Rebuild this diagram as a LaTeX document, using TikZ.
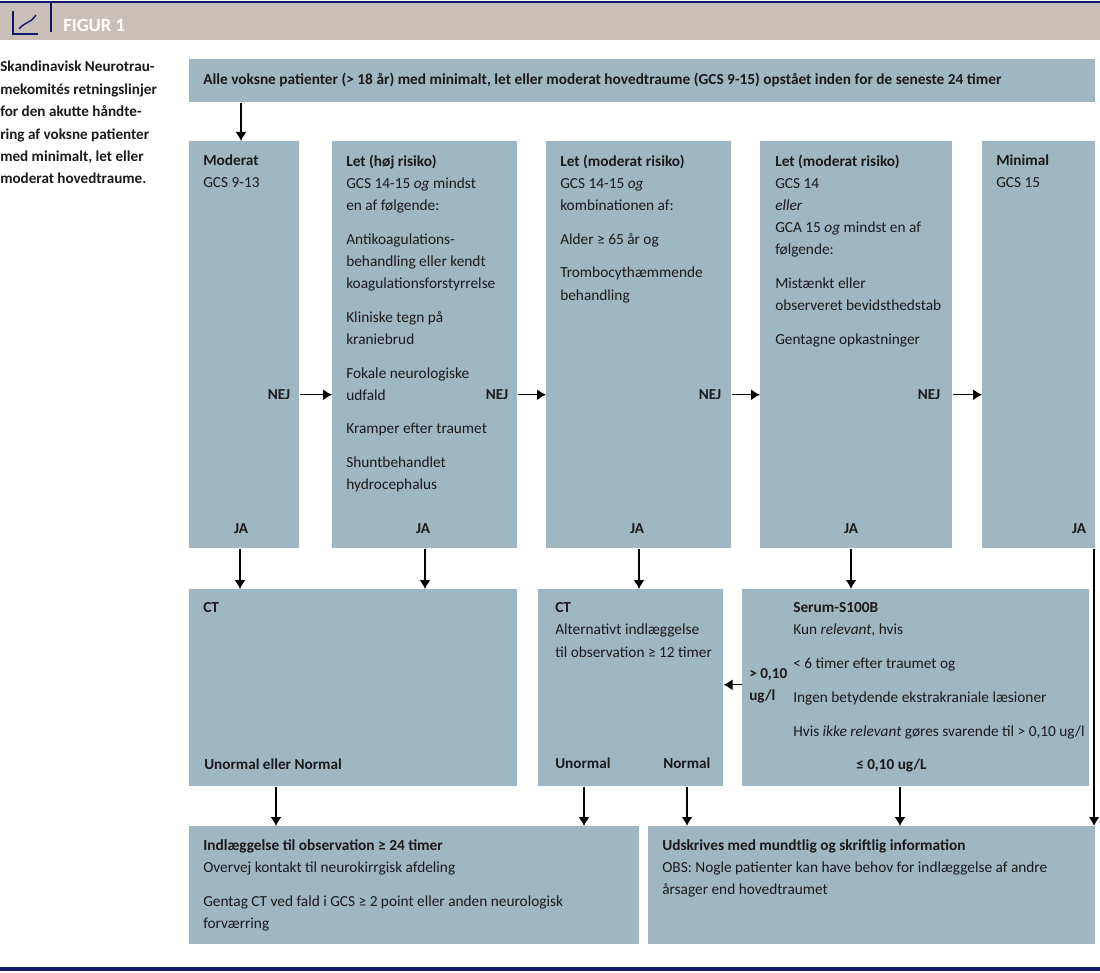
\documentclass[tikz,border=0pt]{standalone}
\usepackage{fontspec}
\setmainfont{Carlito}
\usepackage{xcolor}
\usetikzlibrary{arrows.meta,calc}
\definecolor{boxblue}{HTML}{9FB6C3}
\definecolor{bandgrey}{HTML}{C9BFB9}
\definecolor{navy}{HTML}{14186A}
\definecolor{inktext}{HTML}{1A1A1A}
\def\px{0.75pt}
\begin{document}
\begin{tikzpicture}[x=0.75pt, y=-0.75pt, every node/.style={font=\fontsize{11.5}{16.6}\selectfont, text=inktext},
    flowbox/.style={fill=boxblue, anchor=north west, inner sep=0pt},
    boxtext/.style={anchor=north west, align=left, inner xsep=14*\px, inner ysep=13.5*\px},
    tag/.style={font=\fontsize{11.4}{16.6}\selectfont\bfseries, inner sep=0pt},
    arr/.style={-{Latex[length=9*\px, width=11*\px]}, line width=1.3*\px, draw=black},
    arrthick/.style={arr, line width=2*\px}]
  \useasboundingbox (0,0) rectangle (1100,973);
  \fill[bandgrey] (0,3) rectangle (1100,40);
  \fill[navy] (0,1) rectangle (1100,3);
  \fill[navy] (0,967) rectangle (1100,971);
  \draw[navy, line width=1.5*\px] (13,11) -- (13,34) -- (38,34);
  \draw[navy, line width=1.4*\px] (19,29) .. controls (27,20) and (29,25) .. (36,15);
  \draw[navy, line width=1.5*\px] (51,3) -- (51,32);
  \node[anchor=west, inner sep=0pt, text=white, font=\fontsize{14}{16}\selectfont\bfseries] (figtitle) at (63,25) {FIGUR 1};
  \node[anchor=north west, align=left, inner sep=0pt, font=\fontsize{11.35}{16.8}\selectfont\bfseries] (caption) at (0,61) {Skandinavisk Neurotrau-\\mekomités retningslinjer\\for den akutte håndte-\\ring af voksne patienter\\med minimalt, let eller\\moderat hovedtraume.};

  \node[flowbox, minimum width=906*\px, minimum height=43*\px] (top) at (189,59) {};
  \node[flowbox, minimum width=110*\px, minimum height=407*\px] (moderat) at (189,141) {};
  \node[flowbox, minimum width=185*\px, minimum height=407*\px] (lethoj) at (332,141) {};
  \node[flowbox, minimum width=185*\px, minimum height=407*\px] (letmidA) at (546,141) {};
  \node[flowbox, minimum width=192*\px, minimum height=407*\px] (letmidB) at (760,141) {};
  \node[flowbox, minimum width=113*\px, minimum height=407*\px] (minimal) at (982,141) {};
  \node[flowbox, minimum width=328*\px, minimum height=197*\px] (ctA) at (189,589) {};
  \node[flowbox, minimum width=185*\px, minimum height=197*\px] (ctB) at (538,589) {};
  \node[flowbox, minimum width=347*\px, minimum height=197*\px] (serum) at (742,589) {};
  \node[flowbox, minimum width=450*\px, minimum height=118*\px] (indl) at (189,826) {};
  \node[flowbox, minimum width=447*\px, minimum height=118*\px] (udskr) at (648,826) {};

  \node[boxtext] (topT) at (top.north west) {\textbf{Alle voksne patienter (> 18 år) med minimalt, let eller moderat hovedtraume (GCS 9-15) opstået inden for de seneste 24 timer}};
  \node[boxtext] (moderatT) at (moderat.north west) {\textbf{Moderat}\\GCS 9-13};
  \node[boxtext] (lethojT) at (lethoj.north west) {\textbf{Let (høj risiko)}\\GCS 14-15 \textit{og} mindst\\en af følgende:\\[8.7pt]Antikoagulations-\\behandling eller kendt\\koagulationsforstyrrelse\\[8.7pt]Kliniske tegn på\\kraniebrud\\[8.7pt]Fokale neurologiske\\udfald\\[8.7pt]Kramper efter traumet\\[8.7pt]Shuntbehandlet\\hydrocephalus};
  \node[boxtext] (letmidAT) at (letmidA.north west) {\textbf{Let (moderat risiko)}\\GCS 14-15 \textit{og}\\kombinationen af:\\[8.7pt]Alder ≥ 65 år og\\[8.7pt]Trombocythæmmende\\behandling};
  \node[boxtext, inner xsep=15*\px] (letmidBT) at (letmidB.north west) {\textbf{Let (moderat risiko)}\\GCS 14\\\textit{eller}\\GCA 15 \textit{og} mindst en af\\følgende:\\[8.7pt]Mistænkt eller\\observeret bevidsthedstab\\[8.7pt]Gentagne opkastninger};
  \node[boxtext] (minimalT) at (minimal.north west) {\textbf{Minimal}\\GCS 15};
  \node[boxtext] (ctAT) at (ctA.north west) {\textbf{CT}};
  \node[boxtext, inner xsep=17*\px] (ctBT) at (ctB.north west) {\textbf{CT}\\Alternativt indlæggelse\\til observation ≥ 12 timer};
  \node[boxtext, inner xsep=51*\px] (serumT) at (serum.north west) {\textbf{Serum-S100B}\\Kun \textit{relevant}, hvis\\[8.7pt]< 6 timer efter traumet og\\[8.7pt]Ingen betydende ekstrakraniale læsioner\\[8.7pt]Hvis \textit{ikke relevant} gøres svarende til > 0,10 ug/l};
  \node[boxtext] (indlT) at (indl.north west) {\textbf{Indlæggelse til observation ≥ 24 timer}\\Overvej kontakt til neurokirrgisk afdeling\\[8.7pt]Gentag CT ved fald i GCS ≥ 2 point eller anden neurologisk\\forværring};
  \node[boxtext] (udskrT) at (udskr.north west) {\textbf{Udskrives med mundtlig og skriftlig information}\\OBS: Nogle patienter kan have behov for indlæggelse af andre\\årsager end hovedtraumet};

  \node[tag] (nejA) at (279,395) {NEJ};
  \node[tag] (nejB) at (497,395) {NEJ};
  \node[tag] (nejC) at (710,395) {NEJ};
  \node[tag] (nejD) at (929,395) {NEJ};
  \node[tag] (jaA) at (241,529) {JA};
  \node[tag] (jaB) at (423,529) {JA};
  \node[tag] (jaC) at (637,529) {JA};
  \node[tag] (jaD) at (851,529) {JA};
  \node[tag] (jaE) at (1079,529) {JA};
  \node[tag, anchor=west] (ctAres) at (204,764) {Unormal eller Normal};
  \node[tag, anchor=west] (ctBunorm) at (555,763) {Unormal};
  \node[tag, anchor=west] (ctBnorm) at (663,763) {Normal};
  \node[tag, anchor=west, align=left] (serumHigh) at (749,686) {> 0,10\\ug/l};
  \node[tag, anchor=west] (serumLow) at (856,765) {≤ 0,10 ug/L};

  \draw[arr] ($(top.south west)+(52,0)$) -- ($(moderat.north west)+(52,0)$);
  \draw[arr] ($(moderat.east)+(0,50)$) -- ($(lethoj.west)+(0,50)$);
  \draw[arr] ($(lethoj.east)+(0,50)$) -- ($(letmidA.west)+(0,50)$);
  \draw[arr] ($(letmidA.east)+(0,50)$) -- ($(letmidB.west)+(0,50)$);
  \draw[arr] ($(letmidB.east)+(0,50)$) -- ($(minimal.west)+(0,50)$);
  \draw[arr] ($(moderat.south west)+(51,0)$) -- ($(ctA.north west)+(51,0)$);
  \draw[arr] ($(lethoj.south west)+(93,0)$) -- ($(ctA.north west)+(236,0)$);
  \draw[arr] ($(letmidA.south west)+(93,0)$) -- ($(ctB.north west)+(101,0)$);
  \draw[arrthick] ($(letmidB.south west)+(91,0)$) -- ($(serum.north west)+(109,0)$);
  \draw[arr] ($(serum.west)+(0,-3)$) -- ($(ctB.east)+(0,-3)$);
  \draw[arr] ($(ctA.south west)+(87,0)$) -- ($(indl.north west)+(87,0)$);
  \draw[arr] ($(ctB.south west)+(46,0)$) -- ($(indl.north west)+(395,0)$);
  \draw[arrthick] ($(ctB.south west)+(149,0)$) -- ($(udskr.north west)+(39,0)$);
  \draw[arr] ($(serum.south west)+(158,0)$) -- ($(udskr.north west)+(252,0)$);
  \draw[arrthick] ($(minimal.south west)+(112,0)$) -- ($(udskr.north west)+(446,0)$);
\end{tikzpicture}
\end{document}
